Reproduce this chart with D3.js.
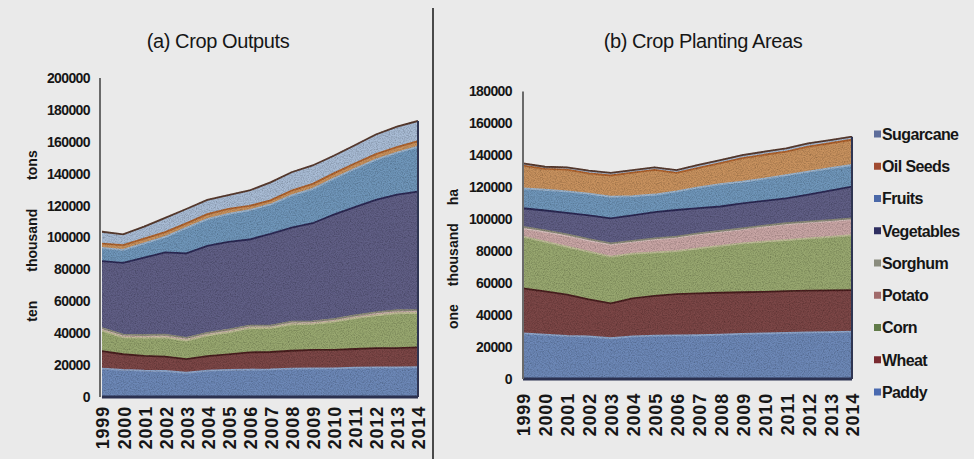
<!DOCTYPE html>
<html><head><meta charset="utf-8">
<script src="https://cdn.jsdelivr.net/npm/d3@7"></script>
<style>
body{margin:0;background:#eaeaea;}
svg{display:block;}
text{font-family:"Liberation Sans",Arial,sans-serif;fill:#161616;}
</style></head><body>
<svg id="c" width="974" height="459">
<defs>
<filter id="grain" x="0" y="0" width="100%" height="100%">
  <feTurbulence type="fractalNoise" baseFrequency="0.85" numOctaves="2" seed="7" result="noise"/>
  <feColorMatrix in="noise" type="matrix" values="0 0 0 0 0  0 0 0 0 0  0 0 0 0 0  0.9 0 0 0 -0.33" result="dark"/>
  <feComposite in="dark" in2="SourceGraphic" operator="in" result="darkIn"/>
  <feMerge><feMergeNode in="SourceGraphic"/><feMergeNode in="darkIn"/></feMerge>
</filter>
</defs>
</svg>
<script>
const years = ["1999","2000","2001","2002","2003","2004","2005","2006","2007","2008","2009","2010","2011","2012","2013","2014"];
const seriesKeys = ["Paddy","Wheat","Corn","Potato","Sorghum","Vegetables","Fruits","Oil Seeds","Sugarcane"];

// (a) Crop outputs, ten thousand tons
const outPaddy      = [17800,17000,16500,16300,15200,16500,17000,17200,17300,17800,18000,18000,18400,18600,18600,18700];
const outWheat      = [11000,9800,9300,9000,8600,9100,9700,10800,10900,11200,11500,11500,11700,12000,12100,12400];
const outCorn       = [12800,10600,11400,12100,11600,13000,13900,15200,15200,16600,16400,17700,19300,20600,21800,21600];
const outPotato     = [1300,1400,1400,1400,1400,1400,1400,1300,1200,1400,1300,1400,1500,1600,1600,1500];
const outSorghum    = [300,250,270,330,280,230,250,240,200,250,250,250,200,250,290,290];
const outVegetables = [42000,45000,48500,51500,53000,54500,55000,54000,57500,59000,61500,65500,68000,70500,72500,74300];
const outFruits     = [8300,8200,9000,9800,16000,16800,17600,18400,18400,20200,21500,22600,24000,25300,26300,28200];
const outOilSeeds   = [2600,2950,2860,2900,2810,3070,3080,2640,2570,2950,3150,3230,3310,3440,3520,3510];
const outSugarcane  = [7500,6800,7600,9000,9000,8980,8660,9700,11300,11500,11560,11080,11440,12310,12820,12560];

// (b) Crop planting areas, one thousand ha
const areaPaddy      = [28600,27800,27000,26600,25500,26700,27200,27300,27400,27800,28200,28600,28900,29200,29400,29600];
const areaWheat      = [28200,27000,25800,23300,21900,23800,24800,25900,26200,26200,26100,26000,26100,26100,26100,26100];
const areaCorn       = [32300,31200,30000,29800,29200,28000,27300,26800,28200,29400,30600,31400,32000,32800,33500,34400];
const areaPotato     = [5200,6100,6900,7000,7500,7400,8100,8500,8800,8700,8800,9400,9900,9800,9900,9900];
const areaSorghum    = [1000,900,800,800,800,600,600,600,600,600,600,600,600,600,600,600];
const areaVegetables = [11600,12500,13500,15000,15700,16000,16500,16700,15800,15300,15700,15500,15600,17000,18500,19800];
const areaFruits     = [12500,13000,13500,13500,13500,12000,11000,11700,13000,14000,13500,14000,14600,14300,14000,13600];
const areaOilSeeds   = [14200,13100,13600,12800,13300,14700,15400,11600,12200,13100,14800,14900,14700,15700,15600,15800];
const areaSugarcane  = [1400,1300,1400,1600,1700,1600,1600,1700,1800,2000,1900,1900,2000,2000,2000,1900];

const ticksOutputs = [0,20000,40000,60000,80000,100000,120000,140000,160000,180000,200000];
const ticksAreas   = [0,20000,40000,60000,80000,100000,120000,140000,160000,180000];
const legendOrder  = ["Sugarcane","Oil Seeds","Fruits","Vegetables","Sorghum","Potato","Corn","Wheat","Paddy"];

const fillColor = {"Paddy":"#6d88b7","Wheat":"#7c4647","Corn":"#98a770","Potato":"#c9a6a5","Sorghum":"#a9a996",
  "Vegetables":"#605e85","Fruits":"#7096ba","Oil Seeds":"#c8925f","Sugarcane":"#a9bcd5"};
const edgeColor = {"Paddy":"#8fa7cc","Wheat":"#4b2324","Corn":"#bdbd95","Potato":"#d8bfbd","Sorghum":"#8c8c7a",
  "Vegetables":"#2e2c55","Fruits":"#9cb5cf","Oil Seeds":"#b0642f","Sugarcane":"#5a3c30"};
const markColor = {"Paddy":"#4a6ab0","Wheat":"#7a2a30","Corn":"#607a48","Potato":"#a06a6a","Sorghum":"#8a8c7e",
  "Vegetables":"#2e2e60","Fruits":"#4a68a8","Oil Seeds":"#a04a30","Sugarcane":"#5d6d9a"};

function table(arrs){
  return years.map((yr,i)=>{const r={year:yr}; seriesKeys.forEach((k,j)=>r[k]=arrs[j][i]); return r;});
}
const outTable = table([outPaddy,outWheat,outCorn,outPotato,outSorghum,outVegetables,outFruits,outOilSeeds,outSugarcane]);
const areaTable = table([areaPaddy,areaWheat,areaCorn,areaPotato,areaSorghum,areaVegetables,areaFruits,areaOilSeeds,areaSugarcane]);

const svg = d3.select("#c");

function drawChart(cfg){
  const g = svg.append("g");
  const x = d3.scalePoint().domain(years).range([cfg.x0, cfg.x1]);
  const y = d3.scaleLinear().domain([0, cfg.ymax]).range([cfg.yb, cfg.yt]);
  const stacked = d3.stack().keys(seriesKeys)(cfg.data);
  const area = d3.area().x(d=>x(d.data.year)).y0(d=>y(d[0])).y1(d=>y(d[1]));
  const line = d3.line().x(d=>x(d.data.year)).y(d=>y(d[1]));
  const ag = g.append("g").attr("filter","url(#grain)");
  ag.selectAll("path.a").data(stacked).join("path").attr("class","a")
    .attr("d",area).attr("fill",s=>fillColor[s.key]).attr("stroke",s=>fillColor[s.key]).attr("stroke-width",0.6);
  ag.selectAll("path.l").data(stacked).join("path").attr("class","l")
    .attr("d",line).attr("fill","none").attr("stroke",s=>edgeColor[s.key]).attr("stroke-width",1.8);
  const last = stacked[stacked.length-1];
  g.append("line").attr("x1",x(years[0])).attr("x2",x(years[years.length-1])).attr("y1",y(0)).attr("y2",y(0))
    .attr("stroke","#2b3150").attr("stroke-width",3);
  g.append("line").attr("x1",x(years[years.length-1])).attr("x2",x(years[years.length-1]))
    .attr("y1",y(0)).attr("y2",y(last[last.length-1][1])).attr("stroke","#2f3552").attr("stroke-width",2);
  const ya = g.append("g").attr("transform",`translate(${cfg.ax},0)`)
    .call(d3.axisLeft(y).tickValues(cfg.ticks).tickSize(0).tickPadding(cfg.pad).tickFormat(d3.format("d")));
  ya.select(".domain").remove();
  ya.selectAll("text").attr("font-size","14px").attr("font-weight","bold").attr("fill","#161616")
    .attr("font-family","'Liberation Sans',Arial,sans-serif").attr("letter-spacing","-0.6px");
  g.append("line").attr("x1",cfg.ax).attr("x2",cfg.ax).attr("y1",y(cfg.ymax)).attr("y2",y(0))
    .attr("stroke","#6a6a6a").attr("stroke-width",2);
  g.selectAll("text.xl").data(years).join("text").attr("class","xl")
    .attr("transform",d=>`translate(${x(d)+1},${cfg.xly}) rotate(-90)`)
    .attr("text-anchor","end").attr("dy","0.36em")
    .attr("font-size","18px").attr("font-weight","bold").attr("letter-spacing","0.8px").text(d=>d);
  g.append("text").attr("x",cfg.tx).attr("y",48).attr("text-anchor","middle")
    .attr("font-size","20px").attr("letter-spacing","-0.4px").attr("fill","#0e0e0e").text(cfg.title);
  g.append("text").attr("transform",`translate(${cfg.atx},${cfg.aty}) rotate(-90)`)
    .attr("text-anchor","middle").attr("font-size","14px").attr("font-weight","bold")
    .attr("word-spacing",cfg.ws+"px").text(cfg.axisTitle);
  return {x,y};
}

drawChart({data:outTable, x0:102, x1:418, yb:397, yt:78, ymax:200000, ticks:ticksOutputs, ax:100, pad:10,
  xly:406, tx:218, title:"(a) Crop Outputs", atx:37, aty:236, axisTitle:"ten thousand tons", ws:25});
drawChart({data:areaTable, x0:523, x1:852, yb:379, yt:91.5, ymax:180000, ticks:ticksAreas, ax:523, pad:11,
  xly:393, tx:703, title:"(b) Crop Planting Areas", atx:458, aty:259, axisTitle:"one thousand ha", ws:14});

svg.append("line").attr("x1",433).attr("x2",433).attr("y1",8).attr("y2",459).attr("stroke","#4a4a4a").attr("stroke-width",2);

const lg = svg.append("g");
const ly = d3.scalePoint().domain(legendOrder).range([134, 392]);
lg.selectAll("rect").data(legendOrder).join("rect")
  .attr("x",874).attr("y",d=>ly(d)-3.5).attr("width",7).attr("height",7).attr("fill",d=>markColor[d]);
lg.selectAll("text").data(legendOrder).join("text")
  .attr("x",882).attr("y",d=>ly(d)).attr("dy","0.36em")
  .attr("font-size","16px").attr("font-weight","bold").attr("letter-spacing","-0.6px").text(d=>d);
</script>
</body></html>
